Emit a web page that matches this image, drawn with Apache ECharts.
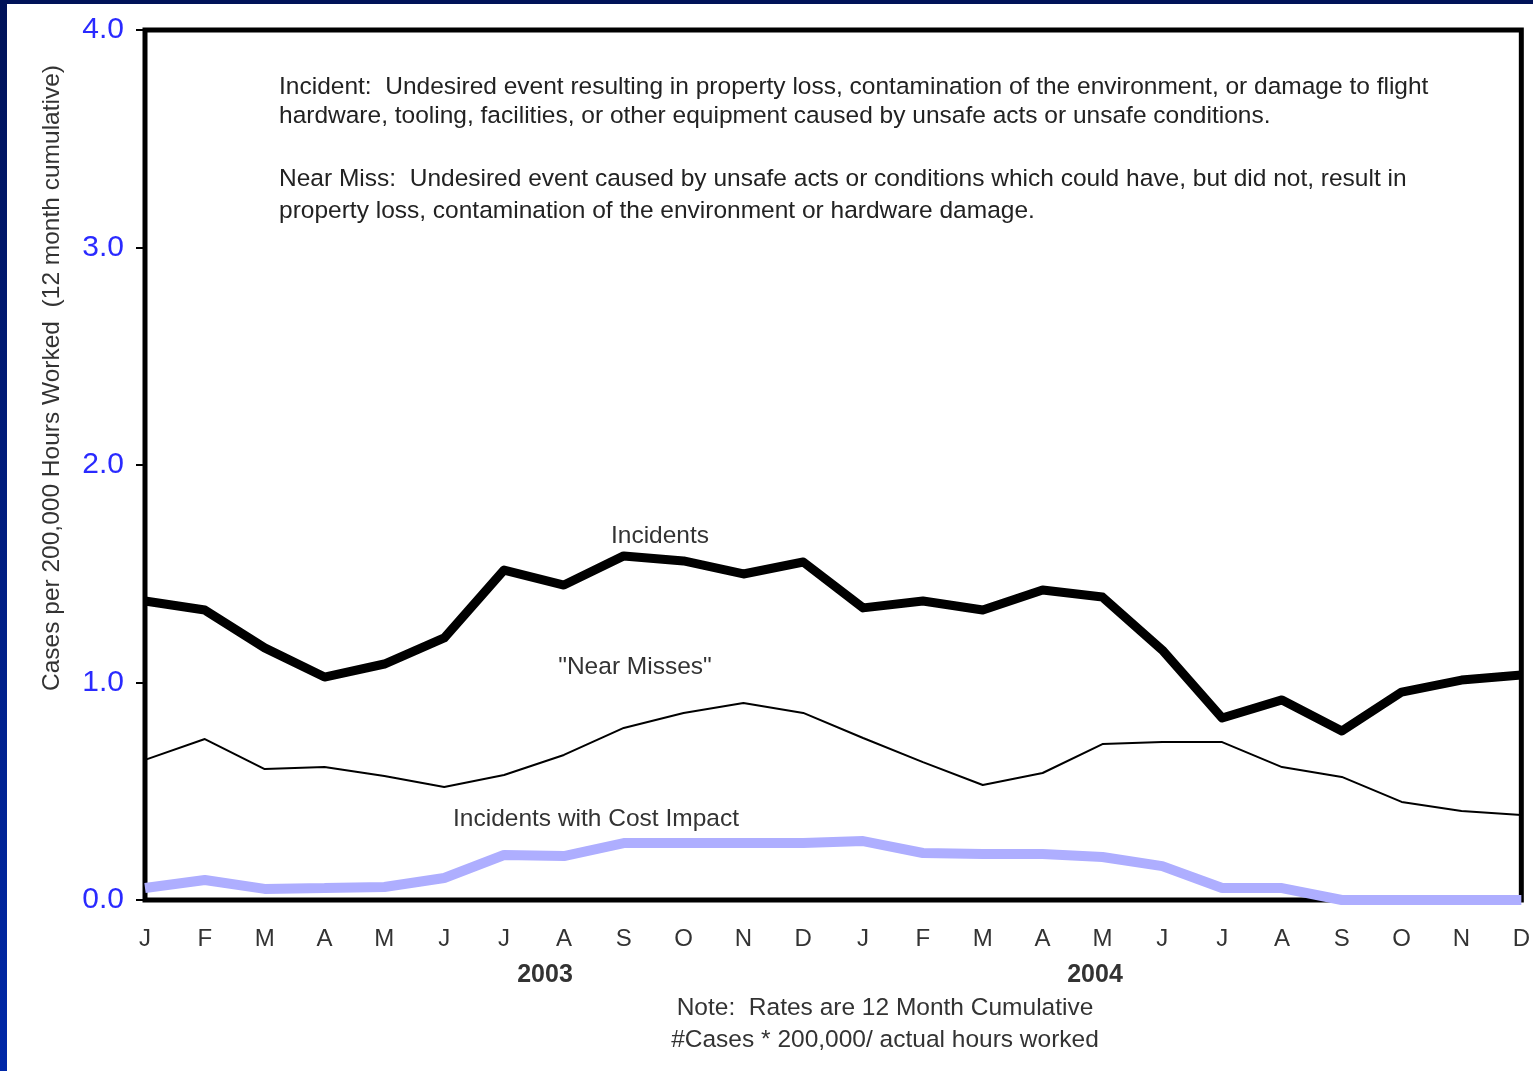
<!DOCTYPE html>
<html><head><meta charset="utf-8">
<script src="https://cdn.jsdelivr.net/npm/echarts@6/dist/echarts.min.js"></script>
<style>html,body{margin:0;padding:0;background:#fff;}#c{width:1533px;height:1071px;}</style>
</head><body><div id="c"></div>
<script>
const months = ['J','F','M','A','M','J','J','A','S','O','N','D','J','F','M','A','M','J','J','A','S','O','N','D'];
const yTicks = ['0.0','1.0','2.0','3.0','4.0'];
const incidents = [1.375,1.333,1.159,1.025,1.085,1.205,1.517,1.448,1.582,1.559,1.499,1.554,1.343,1.375,1.333,1.425,1.393,1.149,0.837,0.920,0.777,0.956,1.011,1.034];
const nearMisses = [0.644,0.740,0.602,0.611,0.570,0.520,0.575,0.667,0.791,0.860,0.906,0.860,0.745,0.634,0.529,0.584,0.717,0.726,0.726,0.611,0.566,0.451,0.409,0.391];
const costImpact = [0.055,0.092,0.051,0.055,0.060,0.101,0.207,0.202,0.262,0.262,0.262,0.262,0.271,0.216,0.211,0.211,0.198,0.156,0.055,0.055,0.0,0.0,0.0,0.0];
const years = ['2003','2004'];
const font = '"Liberation Sans", Arial, sans-serif';
const tf = '24.5px ' + font;

const chart = echarts.init(document.getElementById('c'));
chart.setOption({
  animation:false,
  backgroundColor:'#ffffff',
  grid:{left:145,top:30,right:11,bottom:171,show:true,borderColor:'#000',borderWidth:5,backgroundColor:'transparent'},
  xAxis:{type:'category',data:months.map((m,i)=>i),boundaryGap:false,
    axisLine:{show:false},axisTick:{show:false},splitLine:{show:false},
    axisLabel:{formatter:(v,i)=>months[i],margin:27,fontSize:24,color:'#333',fontFamily:font,interval:0}},
  yAxis:{type:'value',min:0,max:4,interval:1,
    axisLine:{show:false},splitLine:{show:false},
    axisTick:{show:true,inside:false,length:9,lineStyle:{color:'#000',width:2}},
    axisLabel:{formatter:v=>yTicks[Math.round(v)],margin:21,fontSize:30,color:'#2a2aff',fontFamily:font}},
  series:[
    {type:'line',data:costImpact,showSymbol:false,lineStyle:{color:'#aeaeff',width:10},z:3},
    {type:'line',data:nearMisses,showSymbol:false,lineStyle:{color:'#000',width:2},z:4},
    {type:'line',data:incidents,showSymbol:false,lineStyle:{color:'#000',width:9,join:'round'},z:5}
  ],
  graphic:[
    {type:'rect',left:0,top:0,shape:{width:7,height:1071},style:{fill:new echarts.graphic.LinearGradient(0,0,0,1,[{offset:0,color:'#001258'},{offset:1,color:'#0028a8'}])},z:100},
    {type:'rect',left:0,top:0,shape:{width:1533,height:4},style:{fill:'#001258'},z:100},
    {type:'text',x:52,y:378,rotation:Math.PI/2,style:{text:'Cases per 200,000 Hours Worked  (12 month cumulative)',font:'24.5px '+font,fill:'#333',textAlign:'center',textVerticalAlign:'middle'}},
    {type:'text',x:279,y:87,style:{text:'Incident:  Undesired event resulting in property loss, contamination of the environment, or damage to flight',font:tf,fill:'#222',textVerticalAlign:'middle'}},
    {type:'text',x:279,y:116,style:{text:'hardware, tooling, facilities, or other equipment caused by unsafe acts or unsafe conditions.',font:tf,fill:'#222',textVerticalAlign:'middle'}},
    {type:'text',x:279,y:179,style:{text:'Near Miss:  Undesired event caused by unsafe acts or conditions which could have, but did not, result in',font:tf,fill:'#222',textVerticalAlign:'middle'}},
    {type:'text',x:279,y:211,style:{text:'property loss, contamination of the environment or hardware damage.',font:tf,fill:'#222',textVerticalAlign:'middle'}},
    {type:'text',x:660,y:536,style:{text:'Incidents',font:tf,fill:'#333',textAlign:'center',textVerticalAlign:'middle'}},
    {type:'text',x:635,y:667,style:{text:'"Near Misses"',font:tf,fill:'#333',textAlign:'center',textVerticalAlign:'middle'}},
    {type:'text',x:596,y:819,style:{text:'Incidents with Cost Impact',font:tf,fill:'#333',textAlign:'center',textVerticalAlign:'middle'}},
    {type:'text',x:545,y:975,style:{text:years[0],font:'bold 25px '+font,fill:'#333',textAlign:'center',textVerticalAlign:'middle'}},
    {type:'text',x:1095,y:975,style:{text:years[1],font:'bold 25px '+font,fill:'#333',textAlign:'center',textVerticalAlign:'middle'}},
    {type:'text',x:885,y:1008,style:{text:'Note:  Rates are 12 Month Cumulative',font:tf,fill:'#333',textAlign:'center',textVerticalAlign:'middle'}},
    {type:'text',x:885,y:1040,style:{text:'#Cases * 200,000/ actual hours worked',font:tf,fill:'#333',textAlign:'center',textVerticalAlign:'middle'}}
  ]
});
</script></body></html>
